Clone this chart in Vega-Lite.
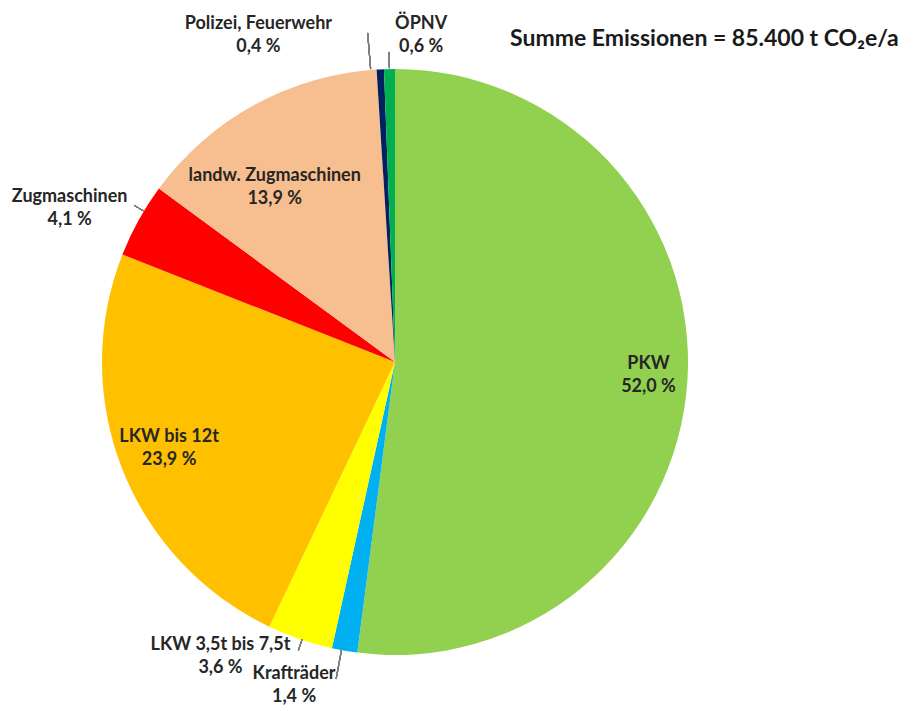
{
  "$schema": "https://vega.github.io/schema/vega-lite/v6.json",
  "autosize": "none",
  "width": 790,
  "height": 688,
  "padding": {"left": 0, "top": 18, "right": 124, "bottom": 0},
  "background": "white",
  "title": {
    "text": "Summe Emissionen = 85.400 t CO₂e/a",
    "anchor": "start",
    "frame": "group",
    "orient": "top",
    "dx": 510,
    "dy": 58,
    "baseline": "alphabetic",
    "font": "Lato",
    "fontWeight": "bold",
    "fontSize": 23,
    "color": "#1a1a1a"
  },
  "config": {"view": {"stroke": null}},
  "data": {
    "values": [
      {"nr": 1, "kategorie": "PKW", "anteil": 52.0, "label": "PKW\n52,0 %"},
      {"nr": 2, "kategorie": "Krafträder", "anteil": 1.4, "label": "Krafträder\n1,4 %"},
      {"nr": 3, "kategorie": "LKW 3,5t bis 7,5t", "anteil": 3.6, "label": "LKW 3,5t bis 7,5t\n3,6 %"},
      {"nr": 4, "kategorie": "LKW bis 12t", "anteil": 23.9, "label": "LKW bis 12t\n23,9 %"},
      {"nr": 5, "kategorie": "Zugmaschinen", "anteil": 4.1, "label": "Zugmaschinen\n4,1 %"},
      {"nr": 6, "kategorie": "landw. Zugmaschinen", "anteil": 13.9, "label": "landw. Zugmaschinen\n13,9 %"},
      {"nr": 7, "kategorie": "Polizei, Feuerwehr", "anteil": 0.4, "label": "Polizei, Feuerwehr\n0,4 %"},
      {"nr": 8, "kategorie": "ÖPNV", "anteil": 0.6, "label": "ÖPNV\n0,6 %"}
    ]
  },
  "layer": [
    {
      "mark": {"type": "arc", "outerRadius": 293},
      "encoding": {
        "theta": {"field": "anteil", "type": "quantitative", "stack": true},
        "order": {"field": "nr", "type": "quantitative"},
        "color": {
          "field": "kategorie",
          "type": "nominal",
          "legend": null,
          "scale": {
            "domain": ["PKW", "Krafträder", "LKW 3,5t bis 7,5t", "LKW bis 12t", "Zugmaschinen", "landw. Zugmaschinen", "Polizei, Feuerwehr", "ÖPNV"],
            "range": ["#92D050", "#00B0F0", "#FFFF00", "#FFC000", "#FF0000", "#F7BE8F", "#002060", "#00B050"]
          }
        }
      }
    },
    {
      "mark": {"type": "arc", "fill": null, "stroke": "#7f7f7f", "strokeWidth": 1},
      "encoding": {"theta": {"value": 3.325}, "theta2": {"value": 3.3255}, "radius": {"value": 322}, "radius2": {"value": 293}}
    },
    {
      "mark": {"type": "arc", "fill": null, "stroke": "#7f7f7f", "strokeWidth": 1},
      "encoding": {"theta": {"value": 3.4645}, "theta2": {"value": 3.465}, "radius": {"value": 304}, "radius2": {"value": 293}}
    },
    {
      "mark": {"type": "arc", "fill": null, "stroke": "#7f7f7f", "strokeWidth": 1},
      "encoding": {"theta": {"value": 5.253}, "theta2": {"value": 5.2535}, "radius": {"value": 304}, "radius2": {"value": 293}}
    },
    {
      "mark": {"type": "arc", "fill": null, "stroke": "#7f7f7f", "strokeWidth": 1},
      "encoding": {"theta": {"value": 6.2}, "theta2": {"value": 6.2005}, "radius": {"value": 330}, "radius2": {"value": 294}}
    },
    {
      "mark": {"type": "arc", "fill": null, "stroke": "#7f7f7f", "strokeWidth": 1},
      "encoding": {"theta": {"value": 6.264}, "theta2": {"value": 6.2645}, "radius": {"value": 310}, "radius2": {"value": 294}}
    },
    {
      "mark": {"type": "text", "radius": 257, "dx": -3, "dy": -15, "font": "Lato", "fontWeight": "bold", "fontSize": 18, "lineHeight": 23, "fill": "#262626", "align": "center", "baseline": "middle", "lineBreak": "\n"},
      "encoding": {
        "theta": {"field": "anteil", "type": "quantitative", "stack": true},
        "order": {"field": "nr", "type": "quantitative"},
        "detail": {"field": "kategorie", "type": "nominal"},
        "text": {"condition": {"test": "datum.nr === 1", "field": "label", "type": "nominal"}, "value": ""}
      }
    },
    {
      "mark": {"type": "text", "radius": 325, "dx": -45, "dy": -8, "font": "Lato", "fontWeight": "bold", "fontSize": 18, "lineHeight": 23, "fill": "#262626", "align": "center", "baseline": "middle", "lineBreak": "\n"},
      "encoding": {
        "theta": {"field": "anteil", "type": "quantitative", "stack": true},
        "order": {"field": "nr", "type": "quantitative"},
        "detail": {"field": "kategorie", "type": "nominal"},
        "text": {"condition": {"test": "datum.nr === 2", "field": "label", "type": "nominal"}, "value": ""}
      }
    },
    {
      "mark": {"type": "text", "radius": 310, "dx": -74, "dy": -10, "font": "Lato", "fontWeight": "bold", "fontSize": 18, "lineHeight": 23, "fill": "#262626", "align": "center", "baseline": "middle", "lineBreak": "\n"},
      "encoding": {
        "theta": {"field": "anteil", "type": "quantitative", "stack": true},
        "order": {"field": "nr", "type": "quantitative"},
        "detail": {"field": "kategorie", "type": "nominal"},
        "text": {"condition": {"test": "datum.nr === 3", "field": "label", "type": "nominal"}, "value": ""}
      }
    },
    {
      "mark": {"type": "text", "radius": 245, "dx": 2, "dy": -15, "font": "Lato", "fontWeight": "bold", "fontSize": 18, "lineHeight": 23, "fill": "#262626", "align": "center", "baseline": "middle", "lineBreak": "\n"},
      "encoding": {
        "theta": {"field": "anteil", "type": "quantitative", "stack": true},
        "order": {"field": "nr", "type": "quantitative"},
        "detail": {"field": "kategorie", "type": "nominal"},
        "text": {"condition": {"test": "datum.nr === 4", "field": "label", "type": "nominal"}, "value": ""}
      }
    },
    {
      "mark": {"type": "text", "radius": 310, "dx": -54, "dy": -15, "font": "Lato", "fontWeight": "bold", "fontSize": 18, "lineHeight": 23, "fill": "#262626", "align": "center", "baseline": "middle", "lineBreak": "\n"},
      "encoding": {
        "theta": {"field": "anteil", "type": "quantitative", "stack": true},
        "order": {"field": "nr", "type": "quantitative"},
        "detail": {"field": "kategorie", "type": "nominal"},
        "text": {"condition": {"test": "datum.nr === 5", "field": "label", "type": "nominal"}, "value": ""}
      }
    },
    {
      "mark": {"type": "text", "radius": 205, "dx": -22, "dy": -6, "font": "Lato", "fontWeight": "bold", "fontSize": 18, "lineHeight": 23, "fill": "#262626", "align": "center", "baseline": "middle", "lineBreak": "\n"},
      "encoding": {
        "theta": {"field": "anteil", "type": "quantitative", "stack": true},
        "order": {"field": "nr", "type": "quantitative"},
        "detail": {"field": "kategorie", "type": "nominal"},
        "text": {"condition": {"test": "datum.nr === 6", "field": "label", "type": "nominal"}, "value": ""}
      }
    },
    {
      "mark": {"type": "text", "radius": 310, "dx": -121, "dy": -28, "font": "Lato", "fontWeight": "bold", "fontSize": 18, "lineHeight": 23, "fill": "#262626", "align": "center", "baseline": "middle", "lineBreak": "\n"},
      "encoding": {
        "theta": {"field": "anteil", "type": "quantitative", "stack": true},
        "order": {"field": "nr", "type": "quantitative"},
        "detail": {"field": "kategorie", "type": "nominal"},
        "text": {"condition": {"test": "datum.nr === 7", "field": "label", "type": "nominal"}, "value": ""}
      }
    },
    {
      "mark": {"type": "text", "radius": 310, "dx": 32, "dy": -28, "font": "Lato", "fontWeight": "bold", "fontSize": 18, "lineHeight": 23, "fill": "#262626", "align": "center", "baseline": "middle", "lineBreak": "\n"},
      "encoding": {
        "theta": {"field": "anteil", "type": "quantitative", "stack": true},
        "order": {"field": "nr", "type": "quantitative"},
        "detail": {"field": "kategorie", "type": "nominal"},
        "text": {"condition": {"test": "datum.nr === 8", "field": "label", "type": "nominal"}, "value": ""}
      }
    }
  ]
}
